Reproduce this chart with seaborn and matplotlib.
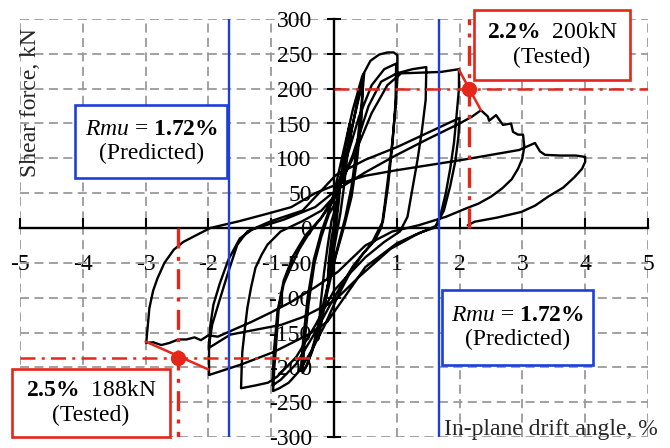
import numpy as np
import pandas as pd
import matplotlib
matplotlib.use("Agg")
import matplotlib.pyplot as plt
import seaborn as sns
from matplotlib.patches import Rectangle

# ---------------- data (drift %, shear force kN), loading history by cycle ----------------
c1_drift = [0.00, 0.03, 0.07, 0.10, 0.08, 0.04, 0.00, -0.04, -0.08, -0.10, -0.08, -0.04, 0.00]
c1_force = [0, 25, 50, 70, 40, 10, -15, -40, -60, -75, -45, -15, 5]

c2_drift = [0.05, 0.12, 0.20, 0.25, 0.22, 0.16, 0.10, 0.03, -0.05, -0.13, -0.20, -0.25, -0.22, -0.16, -0.10, -0.04]
c2_force = [35, 80, 125, 150, 110, 60, 20, -15, -55, -100, -135, -160, -115, -65, -25, 10]

c3_drift = [0.03, 0.15, 0.28, 0.38, 0.45, 0.48, 0.44, 0.37, 0.28, 0.18, 0.05, -0.08, -0.20, -0.32, -0.42,
            -0.50, -0.47, -0.40, -0.31, -0.20, -0.08]
c3_force = [30, 80, 140, 185, 212, 222, 180, 120, 60, 15, -30, -75, -120, -165, -195,
            -208, -165, -105, -50, -12, 20]

c4_drift = [0.05, 0.18, 0.30, 0.40, 0.46, 0.44, 0.37, 0.28, 0.17, 0.03, -0.10, -0.23, -0.35, -0.45, -0.53,
            -0.49, -0.42, -0.32, -0.20, -0.08]
c4_force = [40, 95, 150, 188, 205, 160, 100, 45, 5, -40, -90, -140, -178, -200, -205,
            -160, -100, -45, -5, 25]

c5_drift = [0.00, 0.15, 0.30, 0.45, 0.58, 0.72, 0.85, 0.95, 1.01, 1.01, 0.98, 0.93, 0.87, 0.81, 0.76,
            0.65, 0.45, 0.25, 0.05, -0.15, -0.35, -0.55, -0.72, -0.87, -0.97,
            -0.95, -0.93, -0.88, -0.80, -0.68, -0.55, -0.40, -0.20]
c5_force = [50, 110, 170, 218, 240, 249, 252, 252, 248, 215, 174, 125, 79, 35, 2,
            -18, -38, -65, -100, -140, -175, -205, -222, -230, -234,
            -200, -178, -115, -80, -55, -30, -8, 15]

c6_drift = [0.00, 0.20, 0.40, 0.60, 0.80, 0.99, 0.98, 0.93, 0.86, 0.78, 0.60, 0.30, 0.00, -0.30, -0.60,
            -0.85, -0.98, -0.96, -0.90, -0.80, -0.65, -0.45, -0.20]
c6_force = [45, 100, 160, 205, 228, 236, 180, 120, 60, 10, -22, -55, -100, -150, -195,
            -218, -226, -180, -120, -75, -40, -10, 15]

c7_drift = [0.00, 0.30, 0.55, 0.75, 1.00, 1.25, 1.47, 1.46, 1.40, 1.33, 1.25, 1.17, 1.05, 0.80, 0.50,
            0.20, 0.00, -0.30, -0.60, -0.90, -1.05, -1.25, -1.48, -1.47, -1.46, -1.42, -1.38, -1.32,
            -1.25, -1.15, -1.06, -0.85, -0.50, -0.20]
c7_force = [40, 105, 175, 210, 222, 228, 231, 184, 140, 98, 57, 16, -5, -20, -42,
            -70, -90, -140, -185, -213, -222, -226, -230, -200, -178, -145, -115, -85,
            -57, -38, -24, -5, 10, 25]

c8_drift = [0.00, 0.30, 0.60, 0.85, 1.07, 1.40, 1.70, 1.99, 1.99, 1.95, 1.91, 1.85, 1.78, 1.70, 1.62,
            1.36, 1.00, 0.50, 0.20, -0.11, -0.43, -0.96, -1.48, -1.99, -1.99, -1.94, -1.83, -1.70,
            -1.54, -1.38, -1.00, -0.50]
c8_force = [45, 100, 165, 205, 222, 223, 224, 228, 200, 160, 122, 85, 50, 20, 1,
            -7, -22, -56, -95, -135, -154, -178, -196, -211, -168, -139, -106, -68,
            -24, -5, 10, 25]

c9_drift = [0.03, 0.50, 1.00, 1.50, 2.00, 1.98, 1.93, 1.85, 1.75, 1.62, 1.30, 0.90, 0.40, 0.00, -0.50,
            -0.84, -1.30, -1.65, -1.99, -1.97, -1.92, -1.82, -1.68, -1.50, -1.30, -0.80, -0.30]
c9_force = [76, 98, 116, 137, 158, 130, 95, 60, 25, 3, -10, -30, -70, -105, -128,
            -139, -147, -153, -172, -140, -110, -80, -45, -15, -2, 12, 30]

c10_drift = [0.03, 0.50, 1.00, 1.50, 2.00, 2.20, 2.34, 2.45, 2.47, 2.58, 2.69, 2.82, 2.85, 2.93, 3.01,
             3.03, 3.00, 2.93, 2.83, 2.68, 2.50, 2.30, 2.10, 1.78, 1.35, 0.93, 0.50, 0.06, -0.30,
             -0.68, -1.00, -1.32, -1.60, -1.85, -2.00, -2.12, -2.22, -2.35, -2.48, -2.62, -2.75,
             -2.88, -2.99, -2.94, -2.88, -2.81, -2.70, -2.55, -2.40, -2.23, -1.97, -1.50, -1.00,
             -0.68, -0.30]
c10_force = [54, 80, 105, 128, 150, 160, 169, 160, 154, 162, 148, 150, 138, 134, 134,
             117, 100, 85, 70, 57, 45, 35, 28, 16, 4, -5, -25, -63, -85,
             -106, -121, -135, -146, -156, -154, -161, -157, -160, -160, -165, -168,
             -164, -165, -115, -90, -72, -50, -31, -20, -12, 0, 10, 22,
             30, 50]

c11_drift = [0.03, 0.50, 1.00, 1.50, 1.99, 2.50, 2.95, 3.20, 3.28, 3.36, 3.60, 3.85, 4.00, 4.00, 3.95,
             3.83, 3.65, 3.41, 3.20, 2.98, 2.60, 2.24, 2.13]
c11_force = [62, 75, 83, 90, 97, 105, 112, 122, 110, 105, 104, 104, 102, 95, 85,
             73, 58, 45, 32, 23, 15, 9, 4]

cycle_drifts = [c1_drift, c2_drift, c3_drift, c4_drift, c5_drift, c6_drift,
                c7_drift, c8_drift, c9_drift, c10_drift, c11_drift]
cycle_forces = [c1_force, c2_force, c3_force, c4_force, c5_force, c6_force,
                c7_force, c8_force, c9_force, c10_force, c11_force]

x_ticks = [-5, -4, -3, -2, -1, 0, 1, 2, 3, 4, 5]
x_tick_labels = ['-5', '-4', '-3', '-2', '-1', '', '1', '2', '3', '4', '5']
y_ticks = [-300, -250, -200, -150, -100, -50, 0, 50, 100, 150, 200, 250, 300]
y_tick_labels = [str(v) for v in y_ticks]

rmu_line = 1.67                     # predicted Rmu line position (drawn)
tested_pos = (2.15, 200)            # 2.2%, 200 kN
tested_neg = (-2.48, -186)          # 2.5%, 188 kN
env_pos_drift = [1.99, 2.34]
env_pos_force = [227, 169]
env_neg_drift = [-3.00, -2.00]
env_neg_force = [-163, -203]

drift = np.concatenate([np.asarray(d, float) for d in cycle_drifts])
force = np.concatenate([np.asarray(f, float) for f in cycle_forces])
df = pd.DataFrame({"drift": drift, "force": force})

# ---------------- style ----------------
sns.set_theme(style="white")
plt.rcParams["font.family"] = ["Liberation Serif", "DejaVu Serif"]
plt.rcParams["mathtext.fontset"] = "custom"
plt.rcParams["mathtext.rm"] = "Liberation Serif"
plt.rcParams["mathtext.it"] = "Liberation Serif:italic"
plt.rcParams["mathtext.bf"] = "Liberation Serif:bold"
plt.rcParams["axes.unicode_minus"] = False

RED = "#e5261a"
BLUE = "#1c3fdc"
FS = 17

fig = plt.figure(figsize=(6.7, 4.48), dpi=100)
ax = fig.add_axes([20 / 670, 11 / 448, 628 / 670, 418 / 448])

sns.lineplot(data=df, x="drift", y="force", sort=False, estimator=None,
             color="black", linewidth=1.7, ax=ax, zorder=3)

ax.set_xlim(-5, 5)
ax.set_ylim(-300, 300)
ax.set_xticks(x_ticks)
ax.set_xticklabels(x_tick_labels)
ax.set_yticks(y_ticks)
ax.set_yticklabels(y_tick_labels)

ax.grid(True, color="#9a9a9a", linestyle=(0, (5, 3)), linewidth=1.3)
ax.set_axisbelow(True)
for gl in ax.get_xgridlines() + ax.get_ygridlines():
    gl.set_clip_on(False)

for s in ["top", "right"]:
    ax.spines[s].set_visible(False)
ax.spines["left"].set_position(("data", 0))
ax.spines["bottom"].set_position(("data", 0))
for s in ["left", "bottom"]:
    ax.spines[s].set_color("black")
    ax.spines[s].set_linewidth(1.7)
    ax.spines[s].set_zorder(2.5)

ax.tick_params(axis="x", direction="in", length=7, width=1.5, pad=19,
               labelsize=FS, bottom=True, colors="black")
ax.tick_params(axis="y", direction="inout", length=10, width=1.5, pad=11,
               labelsize=FS, left=True, colors="black")

ax.set_xlabel("In-plane drift angle, %", fontsize=FS, ha="center", va="center")
ax.xaxis.set_label_coords(0.846, 0.019)
ax.set_ylabel("Shear force, kN", fontsize=FS, ha="center", va="center")
ax.yaxis.set_label_coords(0.0175, 0.799)

# predicted Rmu lines
ax.axvline(rmu_line, color=BLUE, lw=1.7, zorder=4)
ax.axvline(-rmu_line, color=BLUE, lw=1.7, zorder=4)

# tested points
dd = (0, (6, 2.5, 1.2, 2.5))
ax.plot([0, 5], [tested_pos[1]] * 2, color=RED, lw=1.8, ls=dd, zorder=4)
ax.plot([tested_pos[0]] * 2, [0, 300], color=RED, lw=2.4, ls=dd, zorder=4)
ax.plot([-5, 0], [tested_neg[1]] * 2, color=RED, lw=1.8, ls=dd, zorder=4)
ax.plot([tested_neg[0]] * 2, [0, -300], color=RED, lw=2.4, ls=dd, zorder=4)
ax.plot(env_pos_drift, env_pos_force, color=RED, lw=1.8, zorder=4)
ax.plot(env_neg_drift, env_neg_force, color=RED, lw=1.8, zorder=4)
ax.plot([tested_pos[0], tested_neg[0]], [tested_pos[1], tested_neg[1]], ls="none",
        marker="o", ms=10, color=RED, zorder=5, clip_on=False)

# annotation boxes (x0, x1, y0, y1 in data units)
def box(x0, x1, y0, y1, color, text):
    ax.add_patch(Rectangle((x0, y0), x1 - x0, y1 - y0, facecolor="white",
                           edgecolor=color, lw=1.9, zorder=6, clip_on=False))
    ax.text((x0 + x1) / 2, (y0 + y1) / 2, text, ha="center", va="center",
            fontsize=FS, zorder=7, linespacing=1.2, color="black", clip_on=False)

pred_txt = r"$\mathit{Rmu}$ = $\mathbf{1.72\%}$" + "\n(Predicted)"
box(-4.12, -1.70, 71.7, 176.5, BLUE, pred_txt)
box(1.72, 4.12, -196.6, -89.0, BLUE, pred_txt)
box(2.23, 4.71, 212.0, 313.0, RED, r"$\mathbf{2.2\%}$  200kN" + "\n(Tested)")
box(-5.13, -2.61, -300.0, -202.0, RED, r"$\mathbf{2.5\%}$  188kN" + "\n(Tested)")

fig.savefig("out.png", dpi=100)
